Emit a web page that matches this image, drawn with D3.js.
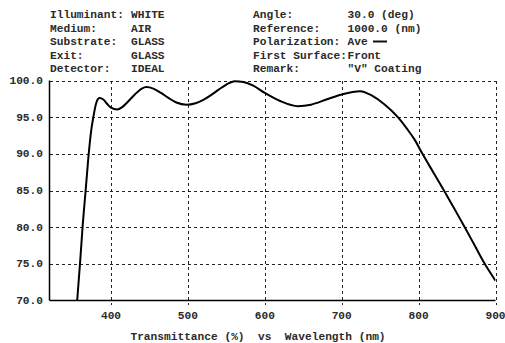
<!DOCTYPE html>
<html>
<head>
<meta charset="utf-8">
<script src="https://cdnjs.cloudflare.com/ajax/libs/d3/7.8.5/d3.min.js"></script>
<style>
  body { margin: 0; background: #fff; }
  text { font-family: "Liberation Mono", "Courier New", monospace; font-size: 11.2px; font-weight: bold; fill: #2a2a2a; }
</style>
</head>
<body>
<script>
	var width = 505;
	var height = 343;

	// header text, left block and right block
	var leftLabels = ["Illuminant:", "Medium:", "Substrate:", "Exit:", "Detector:"];
	var leftValues = ["WHITE", "AIR", "GLASS", "GLASS", "IDEAL"];
	var rightLabels = ["Angle:", "Reference:", "Polarization:", "First Surface:", "Remark:"];
	var rightValues = ["30.0 (deg)", "1000.0 (nm)", "Ave", "Front", "\"V\" Coating"];

	var yTicks = [70, 75, 80, 85, 90, 95, 100];
	var xTicks = [400, 500, 600, 700, 800, 900];

	// transmittance curve
	var wavelength = [350, 356, 360, 363, 367, 371, 374, 377, 381, 385, 390, 395, 400, 408, 415, 420, 430, 440, 446, 455, 465, 475, 485, 498, 510, 520, 530, 540, 550, 561, 572, 585, 600, 620, 643, 660, 680, 700, 724, 740, 755, 773, 785, 795, 805, 819, 833, 846, 860, 873, 886, 900];
	var transmittance = [64, 70, 75.5, 80, 85, 90, 93, 95, 97, 97.6, 97.4, 96.8, 96.3, 96.05, 96.4, 96.9, 98.0, 98.9, 99.1, 98.9, 98.3, 97.6, 97.0, 96.7, 96.9, 97.35, 98.0, 98.75, 99.45, 99.9, 99.8, 99.3, 98.3, 97.2, 96.5, 96.7, 97.4, 98.1, 98.55, 97.9, 96.8, 95.0, 93.4, 91.9, 90.0, 87.5, 85.0, 82.6, 80.0, 77.5, 75.0, 72.7];

	var plotLeft = 49.5, plotRight = 495.5, plotTop = 80.5, plotBottom = 300.5;

	var svg = d3.select("body")
		.append("svg")
		.attr("width", width)
		.attr("height", height);

	var x = d3.scaleLinear().domain([320, 900]).range([plotLeft, plotRight]);
	var y = d3.scaleLinear().domain([70, 100]).range([plotBottom, plotTop]);

	// header
	var header = svg.append("g");
	leftLabels.forEach(function(t, i) {
		header.append("text").attr("x", 50).attr("y", 18 + i * 13.5).text(t);
		header.append("text").attr("x", 131).attr("y", 18 + i * 13.5).text(leftValues[i]);
	});
	rightLabels.forEach(function(t, i) {
		header.append("text").attr("x", 253).attr("y", 18 + i * 13.5).text(t);
		header.append("text").attr("x", 347.5).attr("y", 18 + i * 13.5).text(rightValues[i]);
	});
	// legend line after "Ave"
	header.append("line")
		.attr("x1", 373).attr("x2", 387)
		.attr("y1", 41.5).attr("y2", 41.5)
		.attr("stroke", "#111").attr("stroke-width", 2);

	// dashed grid
	var grid = svg.append("g");

	grid.selectAll(".hgrid")
		.data(yTicks.filter(function(d) { return d > 70; }))
		.enter()
		.append("line")
		.attr("x1", plotLeft).attr("x2", plotRight)
		.attr("y1", function(d) { return Math.round(y(d)) + 0.5; })
		.attr("y2", function(d) { return Math.round(y(d)) + 0.5; })
		.attr("stroke", "#222")
		.attr("stroke-width", 1)
		.attr("stroke-dasharray", "3,3")
		.attr("shape-rendering", "crispEdges");

	grid.selectAll(".vgrid")
		.data(xTicks)
		.enter()
		.append("line")
		.attr("x1", function(d) { return Math.round(x(d)) + 0.5; })
		.attr("x2", function(d) { return Math.round(x(d)) + 0.5; })
		.attr("y1", plotTop).attr("y2", plotBottom + 4)
		.attr("stroke", "#222")
		.attr("stroke-width", 1)
		.attr("stroke-dasharray", "3,3")
		.attr("shape-rendering", "crispEdges");

	// axes (left and bottom only)
	svg.append("line")
		.attr("x1", plotLeft).attr("x2", plotLeft)
		.attr("y1", plotTop).attr("y2", plotBottom)
		.attr("stroke", "#000").attr("stroke-width", 1.5);
	svg.append("line")
		.attr("x1", plotLeft).attr("x2", plotRight)
		.attr("y1", plotBottom).attr("y2", plotBottom)
		.attr("stroke", "#000").attr("stroke-width", 1.5);

	// tick labels
	svg.selectAll(".ylab")
		.data(yTicks)
		.enter()
		.append("text")
		.attr("x", 43)
		.attr("y", function(d) { return y(d) + 3.5; })
		.attr("text-anchor", "end")
		.text(function(d) { return d3.format(".1f")(d); });

	svg.selectAll(".xlab")
		.data(xTicks)
		.enter()
		.append("text")
		.attr("x", function(d) { return x(d); })
		.attr("y", 318.5)
		.attr("text-anchor", "middle")
		.text(function(d) { return d; });

	svg.append("text")
		.attr("x", 258)
		.attr("y", 339.5)
		.attr("text-anchor", "middle")
		.style("white-space", "pre")
		.text("Transmittance (%)  vs  Wavelength (nm)");

	// curve, clipped to the plot area
	svg.append("clipPath").attr("id", "plotclip")
		.append("rect")
		.attr("x", plotLeft).attr("y", plotTop - 2)
		.attr("width", plotRight - plotLeft).attr("height", plotBottom - plotTop + 2);

	var line = d3.line()
		.x(function(d, i) { return x(wavelength[i]); })
		.y(function(d, i) { return y(transmittance[i]); })
		.curve(d3.curveMonotoneX);

	svg.append("path")
		.datum(wavelength)
		.attr("clip-path", "url(#plotclip)")
		.attr("fill", "none")
		.attr("stroke", "#000")
		.attr("stroke-width", 2)
		.attr("d", line);
</script>
</body>
</html>
